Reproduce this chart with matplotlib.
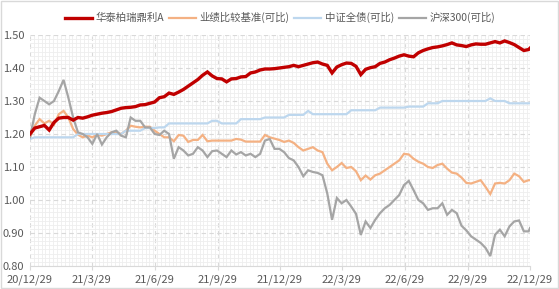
"""华泰柏瑞鼎利A 与基准、中证全债、沪深300 的净值走势对比"""
import pandas as pd
import matplotlib
matplotlib.use("Agg")
import matplotlib.pyplot as plt
from matplotlib.ticker import MultipleLocator, FixedLocator, AutoMinorLocator

plt.rcParams['font.family'] = ['Noto Sans CJK SC', 'DejaVu Sans']

# 周度取样 (2020-12-29 起每 7 天一个点, 最后补 2022-12-29)
dates = list(pd.date_range('2020-12-29', '2022-12-29', freq='7D')) + [pd.Timestamp('2022-12-29')]

fund = [1.200, 1.218, 1.222, 1.226, 1.212, 1.235, 1.248, 1.250, 1.250, 1.242,
        1.250, 1.248, 1.252, 1.257, 1.260, 1.263, 1.265, 1.268, 1.273, 1.278,
        1.280, 1.281, 1.283, 1.288, 1.289, 1.293, 1.297, 1.310, 1.313, 1.324,
        1.320, 1.327, 1.335, 1.345, 1.355, 1.365, 1.378, 1.388, 1.376, 1.368,
        1.367, 1.358, 1.367, 1.368, 1.373, 1.374, 1.385, 1.388, 1.394, 1.397,
        1.397, 1.398, 1.400, 1.402, 1.404, 1.408, 1.404, 1.408, 1.412, 1.416,
        1.418, 1.412, 1.408, 1.385, 1.403, 1.410, 1.415, 1.414, 1.405, 1.380,
        1.396, 1.401, 1.404, 1.414, 1.418, 1.425, 1.430, 1.436, 1.440, 1.436,
        1.434, 1.446, 1.453, 1.458, 1.462, 1.464, 1.467, 1.471, 1.476, 1.470,
        1.468, 1.465, 1.470, 1.473, 1.472, 1.472, 1.476, 1.480, 1.476, 1.482,
        1.477, 1.471, 1.462, 1.453, 1.456, 1.460]

benchmark = [1.190, 1.225, 1.245, 1.232, 1.240, 1.228, 1.260, 1.270, 1.250, 1.215,
             1.198, 1.190, 1.195, 1.190, 1.198, 1.195, 1.200, 1.205, 1.205, 1.200,
             1.210, 1.225, 1.222, 1.220, 1.222, 1.222, 1.210, 1.200, 1.190, 1.190,
             1.178, 1.197, 1.195, 1.176, 1.182, 1.182, 1.197, 1.178, 1.180, 1.180,
             1.180, 1.180, 1.180, 1.185, 1.183, 1.177, 1.177, 1.177, 1.177, 1.197,
             1.190, 1.186, 1.182, 1.176, 1.180, 1.173, 1.160, 1.150, 1.155, 1.160,
             1.150, 1.145, 1.110, 1.090, 1.100, 1.112, 1.097, 1.100, 1.087, 1.060,
             1.074, 1.062, 1.075, 1.080, 1.090, 1.100, 1.110, 1.120, 1.140, 1.138,
             1.125, 1.116, 1.110, 1.100, 1.097, 1.106, 1.110, 1.095, 1.083, 1.080,
             1.068, 1.052, 1.050, 1.055, 1.060, 1.040, 1.018, 1.050, 1.052, 1.050,
             1.060, 1.080, 1.072, 1.055, 1.060, 1.060]

bond = [1.185, 1.190, 1.190, 1.190, 1.190, 1.190, 1.190, 1.190, 1.190, 1.190,
        1.200, 1.200, 1.200, 1.200, 1.200, 1.200, 1.200, 1.200, 1.200, 1.200,
        1.210, 1.210, 1.210, 1.210, 1.218, 1.218, 1.218, 1.220, 1.220, 1.232,
        1.232, 1.232, 1.232, 1.232, 1.232, 1.232, 1.232, 1.232, 1.240, 1.240,
        1.232, 1.232, 1.232, 1.232, 1.245, 1.245, 1.245, 1.245, 1.245, 1.250,
        1.250, 1.250, 1.250, 1.250, 1.258, 1.258, 1.258, 1.258, 1.270, 1.260,
        1.260, 1.260, 1.260, 1.260, 1.260, 1.260, 1.260, 1.272, 1.272, 1.272,
        1.272, 1.272, 1.272, 1.280, 1.280, 1.280, 1.280, 1.280, 1.280, 1.283,
        1.283, 1.283, 1.283, 1.293, 1.293, 1.293, 1.300, 1.300, 1.300, 1.300,
        1.300, 1.300, 1.300, 1.300, 1.300, 1.300, 1.308, 1.300, 1.300, 1.300,
        1.293, 1.293, 1.293, 1.293, 1.293, 1.293]

hs300 = [1.190, 1.260, 1.310, 1.300, 1.290, 1.300, 1.330, 1.364, 1.310, 1.250,
         1.205, 1.200, 1.190, 1.170, 1.200, 1.168, 1.190, 1.205, 1.210, 1.195,
         1.190, 1.250, 1.240, 1.240, 1.220, 1.220, 1.200, 1.197, 1.210, 1.200,
         1.125, 1.160, 1.150, 1.135, 1.140, 1.160, 1.150, 1.130, 1.148, 1.150,
         1.140, 1.130, 1.150, 1.138, 1.145, 1.135, 1.140, 1.130, 1.140, 1.180,
         1.185, 1.155, 1.155, 1.145, 1.127, 1.120, 1.100, 1.072, 1.090, 1.085,
         1.082, 1.075, 1.020, 0.940, 1.006, 0.990, 1.000, 0.980, 0.958, 0.894,
         0.935, 0.915, 0.940, 0.960, 0.975, 0.985, 1.000, 1.015, 1.045, 1.058,
         1.030, 1.000, 0.990, 0.970, 0.975, 0.975, 0.990, 0.955, 0.970, 0.960,
         0.922, 0.908, 0.890, 0.880, 0.870, 0.855, 0.830, 0.895, 0.910, 0.890,
         0.920, 0.935, 0.938, 0.905, 0.905, 0.915]

series_names = ['华泰柏瑞鼎利A', '业绩比较基准(可比)', '中证全债(可比)', '沪深300(可比)']
series_colors = ['#C00000', '#F4B183', '#BDD7EE', '#A5A5A5']
tick_dates = ['2020-12-29', '2021-03-29', '2021-06-29', '2021-09-29',
              '2021-12-29', '2022-03-29', '2022-06-29', '2022-09-29', '2022-12-29']
tick_labels = ['20/12/29', '21/3/29', '21/6/29', '21/9/29', '21/12/29',
               '22/3/29', '22/6/29', '22/9/29', '22/12/29']

fig = plt.figure(figsize=(5.59, 2.89), dpi=100)
ax = fig.add_axes([30 / 559, 1 - 266 / 289, 500 / 559, 231 / 289])

# 先画其余三条, 产品净值画在最上层
order = [1, 2, 3, 0]
all_values = [fund, benchmark, bond, hs300]
lines = {}
for k in order:
    lw = 2.4 if k == 0 else 1.6
    lines[k], = ax.plot(dates, all_values[k], color=series_colors[k], lw=lw,
                        label=series_names[k], solid_joinstyle='miter')

x_ticks = [pd.Timestamp(d) for d in tick_dates]
ax.set_xlim(x_ticks[0], x_ticks[-1])
ax.set_ylim(0.80, 1.50)
ax.yaxis.set_major_locator(MultipleLocator(0.1))
ax.yaxis.set_minor_locator(AutoMinorLocator(8))
ax.xaxis.set_major_locator(FixedLocator(matplotlib.dates.date2num(x_ticks)))
ax.xaxis.set_minor_locator(AutoMinorLocator(16))
ax.set_xticklabels(tick_labels)
ax.set_yticklabels(['%.2f' % v for v in ax.get_yticks()])

ax.grid(which='major', color='#D9D9D9', ls=(0, (4, 3)), lw=0.8)
ax.grid(which='minor', color='#EEEEEE', ls='-', lw=0.6)
ax.set_axisbelow(True)
for s in ['left', 'top', 'right']:
    ax.spines[s].set_visible(False)
ax.spines['bottom'].set_color('#D9D9D9')
ax.tick_params(axis='x', which='major', length=3, color='#D9D9D9',
               labelsize=8, labelcolor='#595959', pad=3)
ax.tick_params(axis='x', which='minor', length=0)
ax.tick_params(axis='y', which='both', length=0, labelsize=8,
               labelcolor='#595959', pad=4)

ax.legend([lines[k] for k in range(4)], series_names, loc='upper center',
          bbox_to_anchor=(0.5, 1 + 27 / 231), ncol=4,
          frameon=False, fontsize=7.5, labelcolor='#595959', handlelength=2.6,
          handletextpad=0.3, columnspacing=0.5, borderaxespad=0)

fig.patches.append(plt.Rectangle((0.001, 0.002), 0.997, 0.995, transform=fig.transFigure,
                                 fill=False, edgecolor='#D9D9D9', lw=1))
fig.savefig('out.png', dpi=100)
